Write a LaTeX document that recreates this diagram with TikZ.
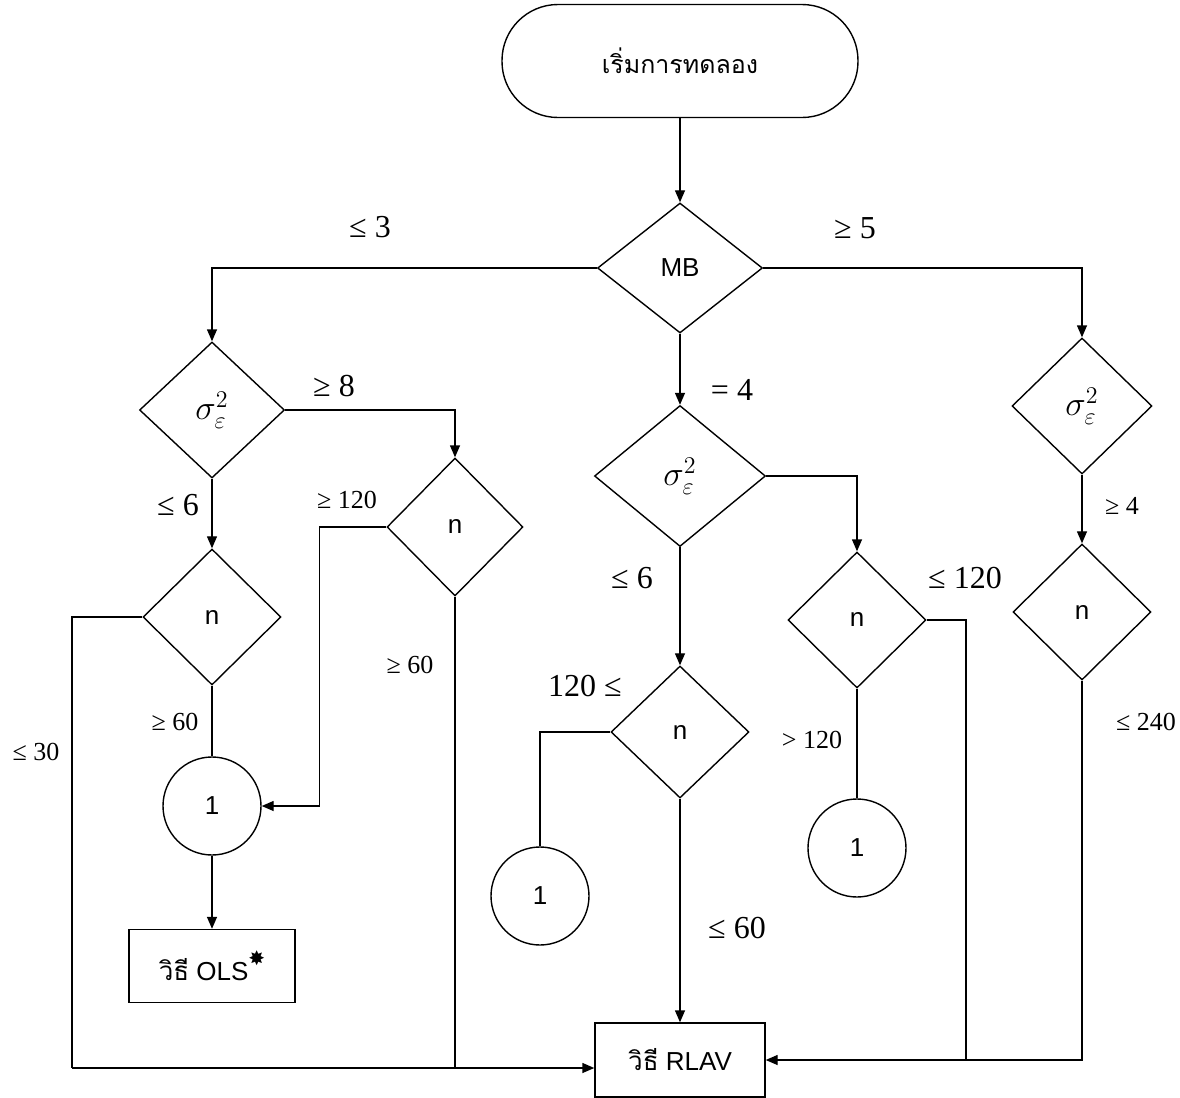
\documentclass[tikz,border=0pt]{standalone}
\usepackage{fontspec}
\setmainfont{Liberation Serif}
\setsansfont{Liberation Sans}
\newfontfamily\thaifont[Script=Thai]{Loma}
\newfontfamily\symfont{DejaVu Sans}
\usetikzlibrary{shapes.geometric,arrows.meta}

\tikzset{
  dec/.style={draw, diamond, inner sep=0pt, font=\sffamily\fontsize{13}{15}\selectfont},
  sdec/.style={dec, font=\fontsize{17}{19}\selectfont},
  con/.style={draw, circle, minimum size=49pt, inner sep=0pt, font=\sffamily\fontsize{13}{15}\selectfont},
  res/.style={draw, rectangle, inner sep=0pt, font=\sffamily\fontsize{13}{15}\selectfont},
  lbl/.style={font=\fontsize{16}{18}\selectfont},
  slbl/.style={font=\fontsize{13}{15}\selectfont},
  arr/.style={-{Triangle[length=6pt,width=5pt]}},
}
\newcommand{\sig}{$\sigma_{\varepsilon}^{2}$}

\begin{document}
\begin{tikzpicture}[x=0.5pt,y=-0.5pt,line width=0.7pt]
  \useasboundingbox (0,0) rectangle (1180,1098);

  % start
  \node[draw, rounded corners=28pt, minimum width=178pt, minimum height=56.5pt,
        font=\thaifont\fontsize{12.5}{14}\selectfont] (start) at (680,61) {เริ่มการทดลอง};

  % decisions
  \node[dec, minimum width=82.5pt, minimum height=65pt] (mb) at (680,268) {MB};
  \node[sdec, minimum width=72.5pt, minimum height=68pt] (sigL) at (212,410) {\sig};
  \node[sdec, minimum width=85.5pt, minimum height=70.5pt] (sigM) at (680,476) {\sig};
  \node[sdec, minimum width=70pt, minimum height=68pt] (sigR) at (1082,406) {\sig};

  \node[dec, minimum width=69pt, minimum height=68pt] (nL) at (212,617) {n};
  \node[dec, minimum width=68pt, minimum height=69pt] (nA) at (455,527) {n};
  \node[dec, minimum width=69pt, minimum height=66pt] (nM) at (680,732) {n};
  \node[dec, minimum width=69pt, minimum height=68pt] (nR) at (857,620) {n};
  \node[dec, minimum width=69pt, minimum height=68pt] (nRR) at (1082,612) {n};

  % connectors 1
  \node[con] (cL) at (212,806) {1};
  \node[con] (cM) at (540,896) {1};
  \node[con] (cR) at (857,848) {1};

  % results
  \node[res, minimum width=83pt, minimum height=36.5pt] (ols) at (212,966)
    {{\thaifont วิธี} OLS\raisebox{1.1ex}{\symfont\fontsize{10}{10}\selectfont ✸}};
  \node[res, minimum width=85pt, minimum height=37pt] (rlav) at (680,1060)
    {{\thaifont วิธี} RLAV};

  \coordinate (bl) at (72,1068);
  \coordinate (jr) at (966,1060);

  % lines
  \draw[arr] (start) -- (mb);
  \draw[arr] (mb.west) -| (sigL.north);
  \draw[arr] (mb.east) -| (sigR.north);
  \draw[arr] (mb) -- (sigM);

  \draw[arr] (sigL.east) -| (nA.north);
  \draw[arr] (sigL) -- (nL);
  \draw (nL.west) -| (bl);
  \draw[arr] (bl) -- (bl -| rlav.west);
  \draw (nL) -- (cL);
  \draw[arr] (nA.west) -- ++(-67,0) |- (cL.east);
  \draw (nA.south) -- (nA.south |- bl);
  \draw[arr] (cL) -- (ols);

  \draw[arr] (sigM) -- (nM);
  \draw[arr] (sigM.east) -| (nR.north);
  \draw (nM.west) -| (cM.north);
  \draw[arr] (nM) -- (rlav);
  \draw (nR) -- (cR);
  \draw (nR.east) -| (jr);

  \draw[arr] (sigR) -- (nRR);
  \draw[arr] (nRR.south) |- (rlav.east);

  % labels
  \node[lbl] (l3) at (370,227) {≤ 3};
  \node[lbl] (g5) at (855,228) {≥ 5};
  \node[lbl] (e4) at (732,390) {= 4};
  \node[lbl] (g8) at (334,386) {≥ 8};
  \node[lbl] (l6a) at (178,505) {≤ 6};
  \node[slbl] (g120) at (347,500) {≥ 120};
  \node[slbl] (g60a) at (410,665) {≥ 60};
  \node[slbl] (g60b) at (175,722) {≥ 60};
  \node[slbl] (l30) at (36,752) {≤ 30};
  \node[lbl] (l6b) at (632,578) {≤ 6};
  \node[lbl] (l120a) at (585,686) {120 ≤};
  \node[lbl] (l120b) at (965,578) {≤ 120};
  \node[slbl] (m120) at (812,740) {> 120};
  \node[slbl] (g4) at (1122,506) {≥ 4};
  \node[slbl] (l240) at (1146,722) {≤ 240};
  \node[lbl] (l60) at (737,928) {≤ 60};
\end{tikzpicture}
\end{document}
